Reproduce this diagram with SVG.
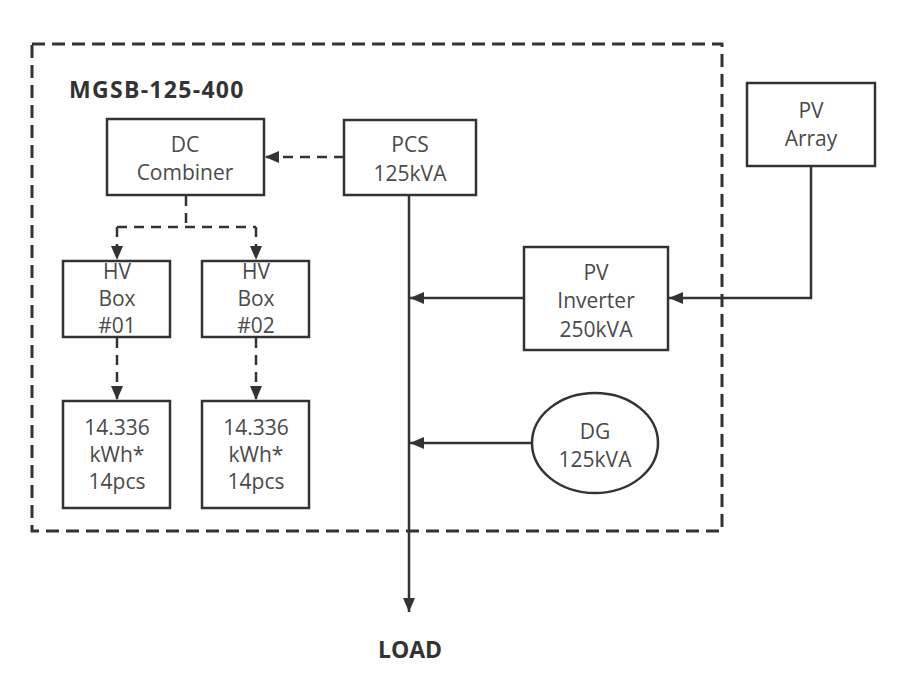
<svg xmlns="http://www.w3.org/2000/svg" width="900" height="700" viewBox="0 0 900 700">
<style>
.box{fill:#fff;stroke:#333;stroke-width:2.5}
.t{font-family:"Open Sans","Noto Sans",sans-serif;font-size:21px;fill:#4a4a4a;text-anchor:middle}
.b{font-family:"Open Sans","Noto Sans",sans-serif;font-size:23px;font-weight:bold;fill:#333}
.ln{fill:none;stroke:#333;stroke-width:2.5}
.dl{fill:none;stroke:#333;stroke-width:2.5;stroke-dasharray:10,7}
</style>
<defs>
<marker id="ah" viewBox="0 0 14 12" refX="14" refY="6" markerWidth="14" markerHeight="12" markerUnits="userSpaceOnUse" orient="auto">
<path d="M0,0 L14,6 L0,12 Z" fill="#333"/>
</marker>
</defs>
<rect width="900" height="700" fill="#fff"/>
<rect id="frame" x="32" y="44" width="690" height="487" fill="none" stroke="#333" stroke-width="3" stroke-dasharray="13,7"/>
<text class="b" x="69" y="98" font-size="24" letter-spacing="1.3">MGSB-125-400</text>
<g id="connectors">
<line class="dl" x1="344" y1="157" x2="265" y2="157" marker-end="url(#ah)"/>
<path class="dl" d="M186,196 V227"/>
<path class="dl" d="M117,227 H256"/>
<path class="dl" d="M117,227 V260" marker-end="url(#ah)"/>
<path class="dl" d="M256,227 V260" marker-end="url(#ah)"/>
<path class="dl" d="M117,338 V400" marker-end="url(#ah)"/>
<path class="dl" d="M256,338 V400" marker-end="url(#ah)"/>
<path class="ln" d="M409,196 V612" marker-end="url(#ah)"/>
<path class="ln" d="M524,298 H410" marker-end="url(#ah)"/>
<path class="ln" d="M532,443 H410" marker-end="url(#ah)"/>
<path class="ln" d="M811,167 V298 H669" marker-end="url(#ah)"/>
</g>
<g id="dc-combiner">
<rect class="box" x="107" y="119" width="157" height="76"/>
<text class="t" x="185" y="152" font-size="22">DC</text>
<text class="t" x="185" y="180" font-size="22">Combiner</text>
</g>
<g id="pcs">
<rect class="box" x="344" y="120" width="132" height="75"/>
<text class="t" x="410" y="152" font-size="22">PCS</text>
<text class="t" x="410" y="181" font-size="22">125kVA</text>
</g>
<g id="pv-array">
<rect class="box" x="747" y="83" width="128" height="83"/>
<text class="t" x="811" y="118" font-size="22">PV</text>
<text class="t" x="811" y="146" font-size="22">Array</text>
</g>
<g id="pv-inverter">
<rect class="box" x="524" y="247" width="144" height="103"/>
<text class="t" x="596" y="280">PV</text>
<text class="t" x="596" y="308">Inverter</text>
<text class="t" x="596" y="337">250kVA</text>
</g>
<g id="dg">
<ellipse class="box" cx="595" cy="443" rx="63" ry="50"/>
<text class="t" x="595" y="439" font-size="22">DG</text>
<text class="t" x="595" y="467" font-size="22">125kVA</text>
</g>
<g id="hv-box-01">
<rect class="box" x="63" y="261" width="107" height="76"/>
<text class="t" x="117" y="279">HV</text>
<text class="t" x="117" y="306">Box</text>
<text class="t" x="117" y="333">#01</text>
</g>
<g id="hv-box-02">
<rect class="box" x="202" y="261" width="107" height="76"/>
<text class="t" x="256" y="279">HV</text>
<text class="t" x="256" y="306">Box</text>
<text class="t" x="256" y="333">#02</text>
</g>
<g id="battery-01">
<rect class="box" x="63" y="401" width="107" height="107"/>
<text class="t" x="117" y="435">14.336</text>
<text class="t" x="117" y="462">kWh*</text>
<text class="t" x="117" y="489">14pcs</text>
</g>
<g id="battery-02">
<rect class="box" x="202" y="401" width="107" height="107"/>
<text class="t" x="256" y="435">14.336</text>
<text class="t" x="256" y="462">kWh*</text>
<text class="t" x="256" y="489">14pcs</text>
</g>
<g id="load">
<text class="b" x="410" y="658" text-anchor="middle">LOAD</text>
</g>
</svg>
